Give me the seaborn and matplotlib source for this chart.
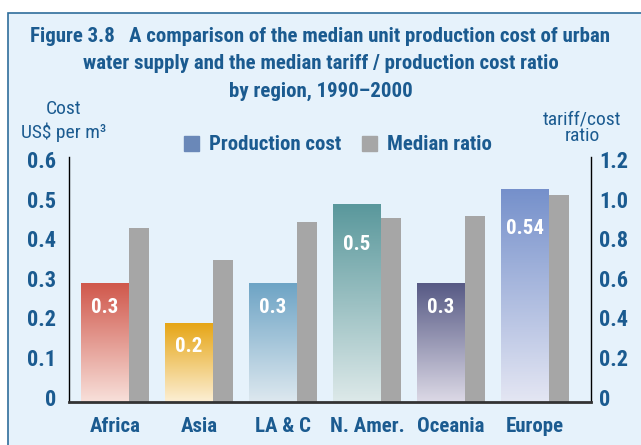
import matplotlib
matplotlib.use('Agg')
import matplotlib.pyplot as plt
import matplotlib.patches as mpatches
import matplotlib.transforms as mtrans
from matplotlib.colors import LinearSegmentedColormap
import numpy as np
import pandas as pd
import seaborn as sns

# Data
regions = ['Africa', 'Asia', 'LA & C', 'N. Amer.', 'Oceania', 'Europe']
cost = [0.3, 0.2, 0.3, 0.5, 0.3, 0.54]
cost_labels = ['0.3', '0.2', '0.3', '0.5', '0.3', '0.54']
ratio = [0.88, 0.72, 0.91, 0.93, 0.94, 1.05]

# gradient colours for each cost bar (top, bottom)
grad_top = ['#d0584c', '#e6a514', '#6ea4c5', '#5a989c', '#575a85', '#7590cb']
grad_bottom = ['#f8e0da', '#fcefd4', '#dde8ef', '#dde9e9', '#dcd9e6', '#e4e6f3']

blue = '#1b5b90'
grey = '#a6a6a6'
bg = '#e6f2fb'

sns.set_style('white')
plt.rcParams['font.family'] = ['Roboto Condensed', 'DejaVu Sans']

df = pd.DataFrame({'region': regions, 'cost': cost, 'ratio': ratio})

fig = plt.figure(figsize=(6.41, 4.45), dpi=100)
fig.patch.set_facecolor('white')
# framed panel
fig.patches.append(mpatches.Rectangle((7.5 / 641, -0.05), 1.1, (432 / 445) + 0.05,
                                      transform=fig.transFigure, facecolor=bg,
                                      edgecolor='#2f6d9b', lw=1.2, zorder=-5))

ax = fig.add_axes([69 / 641, 43 / 445, 522 / 641, 245 / 445])
ax.set_facecolor('none')
ax2 = ax.twinx()
ax2.set_facecolor('none')
ax.set_zorder(1)
ax2.set_zorder(2)

cost_w = 48 / 84
ratio_w = 20 / 84
cost_shift = -0.119
ratio_shift = 0.286

sns.barplot(data=df, x='region', y='cost', ax=ax, width=cost_w, color='white',
            saturation=1, linewidth=0)
sns.barplot(data=df, x='region', y='ratio', ax=ax2, width=ratio_w, color=grey,
            saturation=1, linewidth=0)

for p in ax2.patches:
    p.set_x(p.get_x() + ratio_shift)

for i, p in enumerate(ax.patches):
    p.set_x(p.get_x() + cost_shift)
    x0, w, h = p.get_x(), p.get_width(), p.get_height()
    cmap = LinearSegmentedColormap.from_list('g', [grad_bottom[i], grad_top[i]])
    grad = np.linspace(0, 1, 200).reshape(-1, 1)
    im = ax.imshow(grad, cmap=cmap, aspect='auto', origin='lower',
                   extent=(x0, x0 + w, 0, h), zorder=2)
    im.set_clip_path(p)
    off = -24 if cost[i] < 0.4 else -40
    ax.annotate(cost_labels[i], (x0 + w / 2, h), xytext=(0, off),
                textcoords='offset pixels', ha='center', va='center',
                color='white', fontsize=15, fontweight='bold', zorder=4)

ax.set_xlim(-0.548, 5.667)
ax.set_ylim(0, 0.62)
ax2.set_ylim(0, 1.24)

# axes styling
for a in (ax, ax2):
    for s in a.spines.values():
        s.set_visible(False)
ax.spines['left'].set_visible(True)
ax.spines['left'].set_color('black')
ax.spines['left'].set_linewidth(1.0)
ax2.spines['right'].set_visible(True)
ax2.spines['right'].set_color('black')
ax2.spines['right'].set_linewidth(1.0)
ax2.spines['bottom'].set_visible(True)
ax2.spines['bottom'].set_color('#333333')
ax2.spines['bottom'].set_linewidth(2.0)

ax.set_yticks([0, 0.1, 0.2, 0.3, 0.4, 0.5, 0.6])
ax.set_yticklabels(['0', '0.1', '0.2', '0.3', '0.4', '0.5', '0.6'])
ax2.set_yticks([0, 0.2, 0.4, 0.6, 0.8, 1.0, 1.2])
ax2.set_yticklabels(['0', '0.2', '0.4', '0.6', '0.8', '1.0', '1.2'])
ax.tick_params(axis='y', length=0, pad=9, labelsize=16, labelcolor=blue)
ax2.tick_params(axis='y', length=0, pad=6, labelsize=16, labelcolor=blue)
up = mtrans.ScaledTranslation(0, 5 / 100, fig.dpi_scale_trans)
for t in ax.get_yticklabels() + ax2.get_yticklabels():
    t.set_fontweight('bold')
    t.set_transform(t.get_transform() + up)

ax.set_xticks(range(len(regions)))
ax.set_xticklabels(regions)
ax.tick_params(axis='x', length=0, pad=11, labelsize=15, labelcolor=blue)
for t in ax.get_xticklabels():
    t.set_fontweight('bold')
ax.set_xlabel('')
ax.set_ylabel('')
ax2.set_ylabel('')
ax2.tick_params(axis='x', length=0)

# title
fig.text(0.5, 1 - 64 / 445, 'Figure 3.8   A comparison of the median unit production cost of urban\n'
         'water supply and the median tariff / production cost ratio\nby region, 1990\u20132000',
         ha='center', va='center', color=blue, fontsize=15, fontweight='bold',
         linespacing=1.55)

# axis captions
fig.text(64 / 641, 1 - 109 / 445, 'Cost', ha='center', va='center', color=blue, fontsize=14)
fig.text(64 / 641, 1 - 132 / 445, 'US$ per m\u00b3', ha='center', va='center', color=blue, fontsize=14)
fig.text(582 / 641, 1 - 119 / 445, 'tariff/cost', ha='center', va='center', color=blue, fontsize=14)
fig.text(582 / 641, 1 - 136 / 445, 'ratio', ha='center', va='center', color=blue, fontsize=14)

# legend
handles = [mpatches.Patch(color='#6a88b8', label='Production cost'),
           mpatches.Patch(color=grey, label='Median ratio')]
fig.legend(handles=handles, loc='center', bbox_to_anchor=(338 / 641, 1 - 145 / 445),
           ncol=2, frameon=False, handlelength=0.7, handleheight=0.7,
           handletextpad=0.5, columnspacing=1.0,
           prop={'weight': 'bold', 'size': 15}, labelcolor=blue)

fig.savefig('out.png', dpi=100)
